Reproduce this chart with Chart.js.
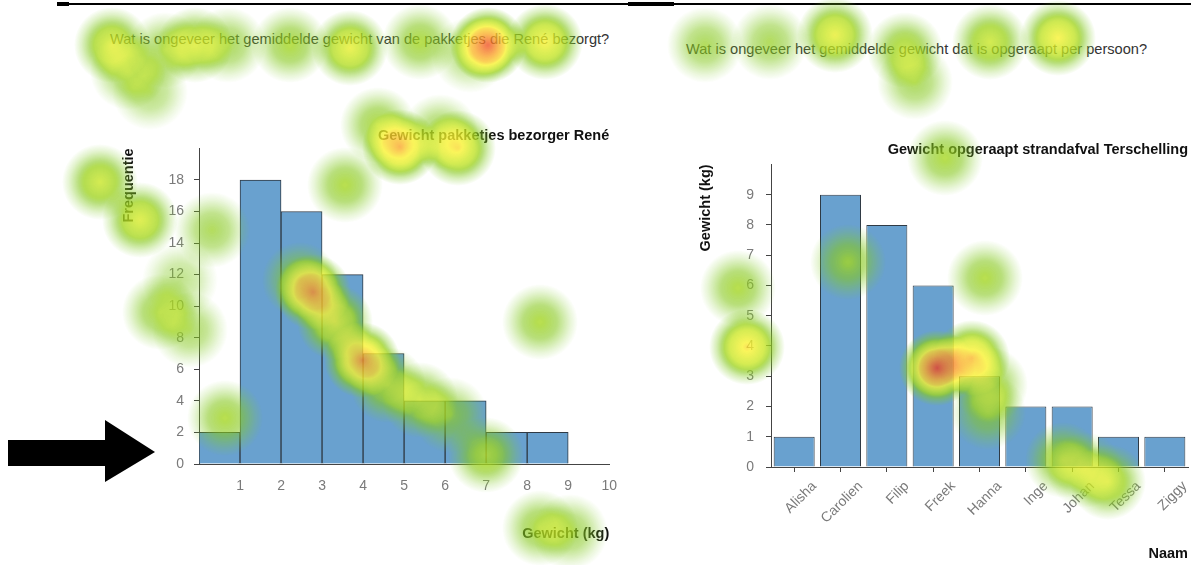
<!DOCTYPE html>
<html>
<head>
<meta charset="utf-8">
<script src="https://cdn.jsdelivr.net/npm/chart.js@4.4.1/dist/chart.umd.min.js"></script>
<style>
  body { margin: 0; width: 1191px; height: 565px; position: relative; background: #fff; overflow: hidden;
         font-family: "Liberation Sans", Arial, sans-serif; }
  canvas { position: absolute; }
  .vraag { position: absolute; font-size: 14.6px; color: #333; white-space: nowrap; }
  .lijn { position: absolute; background: #000; }
</style>
</head>
<body>
<div class="lijn" style="left:57px;top:3px;width:1134px;height:2px"></div>
<div class="lijn" style="left:57px;top:2px;width:12px;height:4px"></div>
<div class="lijn" style="left:628px;top:2px;width:46px;height:4px"></div>

<div class="vraag" style="left:110px;top:31px">Wat is ongeveer het gemiddelde gewicht van de pakketjes die René bezorgt?</div>
<div class="vraag" style="left:686px;top:41px">Wat is ongeveer het gemiddelde gewicht dat is opgeraapt per persoon?</div>

<svg width="170" height="100" style="position:absolute;left:0;top:410px">
  <polygon points="8,30 105,30 105,10 155,42 105,72 105,56 8,56" fill="#000"/>
</svg>

<canvas id="links" width="511" height="425" style="left:120px;top:120px"></canvas>
<canvas id="rechts" width="494" height="435" style="left:697px;top:130px"></canvas>
<canvas id="heat" width="1191" height="565" style="left:0;top:0;pointer-events:none"></canvas>

<script>
// histogram René
const binStart = [0, 1, 2, 3, 4, 5, 6, 7, 8];
const frequentie = [2, 18, 16, 12, 7, 4, 4, 2, 2];
const kgTicks = [1, 2, 3, 4, 5, 6, 7, 8, 9, 10];
const freqTicks = [0, 2, 4, 6, 8, 10, 12, 14, 16, 18];

// strandafval Terschelling
const namen = ['Alisha', 'Carolien', 'Filip', 'Freek', 'Hanna', 'Inge', 'Johan', 'Tessa', 'Ziggy'];
const gewicht = [1, 9, 8, 6, 3, 2, 2, 1, 1];
const gewichtTicks = [0, 1, 2, 3, 4, 5, 6, 7, 8, 9];

// eye tracking fixaties (pagina pixels) en hun gewicht
const gazeX = [112, 128, 150, 165, 195, 228, 290, 350, 420, 470, 488, 545,
               378, 400, 440, 458, 345,
               100, 140, 212, 180, 160, 190, 225,
               300, 313, 335, 362, 388, 420, 450, 486, 540,
               540, 570,
               705, 770, 835, 905, 915, 990, 1058,
               945, 848, 738, 747, 985, 937, 972, 990, 988, 1063, 1085, 1108];
const gazeY = [45, 72, 92, 50, 45, 45, 45, 48, 42, 55, 45, 42,
               125, 147, 132, 148, 185,
               182, 220, 230, 280, 312, 330, 418,
               280, 292, 322, 360, 385, 400, 415, 455, 322,
               528, 532,
               45, 42, 35, 50, 82, 42, 38,
               158, 262, 288, 347, 278, 368, 358, 385, 412, 460, 470, 482];
const gazeW = [0.5, 0.3, 0.25, 0.3, 0.45, 0.3, 0.35, 0.55, 0.35, 0.25, 0.9, 0.6,
               0.35, 0.75, 0.3, 0.6, 0.35,
               0.45, 0.5, 0.3, 0.22, 0.35, 0.28, 0.35,
               0.35, 0.75, 0.55, 0.8, 0.4, 0.4, 0.3, 0.4, 0.35,
               0.35, 0.3,
               0.3, 0.3, 0.55, 0.4, 0.3, 0.45, 0.6,
               0.35, 0.35, 0.35, 0.65, 0.35, 0.95, 0.7, 0.35, 0.3, 0.4, 0.3, 0.45];

const font = '"Liberation Sans", Arial, sans-serif';
const barBlue = '#69a1cf';
const barEdge = '#2f3a45';
const tickGrey = '#7a7a7a';
const axisColor = '#444';
const titleFont = { size: 14.5, weight: 'bold' };

Chart.defaults.font.family = font;

new Chart(document.getElementById('links'), {
  type: 'bar',
  data: {
    datasets: [{
      data: binStart.map((s, i) => ({ x: s + 0.5, y: frequentie[i] })),
      backgroundColor: barBlue,
      borderColor: barEdge,
      borderWidth: 1,
      barPercentage: 1,
      categoryPercentage: 1
    }]
  },
  options: {
    responsive: false,
    animation: false,
    layout: { padding: { left: 0, right: 0, top: 0, bottom: 0 } },
    plugins: {
      legend: { display: false },
      tooltip: { enabled: false },
      title: {
        display: true, text: 'Gewicht pakketjes bezorger René', align: 'end', color: '#111',
        fullSize: false, font: titleFont, padding: { top: 7, bottom: 4 }
      }
    },
    scales: {
      x: {
        type: 'linear', min: 0, max: 10, offset: false,
        afterBuildTicks: s => { s.ticks = kgTicks.map(v => ({ value: v })); },
        afterFit: s => { s.height = 81; },
        ticks: { color: tickGrey, font: { size: 14 }, padding: 14, maxRotation: 0, autoSkip: false },
        grid: { display: false, drawTicks: false },
        border: { color: axisColor },
        title: {
          display: true, text: 'Gewicht (kg)', align: 'end', color: '#111',
          font: titleFont, padding: { top: 0, bottom: 2 }
        }
      },
      y: {
        min: 0, max: 20,
        afterBuildTicks: s => { s.ticks = freqTicks.map(v => ({ value: v })); },
        afterFit: s => { s.width = 79; },
        ticks: { color: tickGrey, font: { size: 14 }, padding: 10 },
        grid: { drawOnChartArea: false, tickLength: 5, color: axisColor },
        border: { color: axisColor },
        title: {
          display: true, text: 'Frequentie', align: 'end', color: '#111',
          font: titleFont, padding: { top: 0, bottom: 0 }
        }
      }
    }
  }
});

new Chart(document.getElementById('rechts'), {
  type: 'bar',
  data: {
    labels: namen,
    datasets: [{
      data: gewicht,
      backgroundColor: barBlue,
      borderColor: barEdge,
      borderWidth: 1,
      barPercentage: 0.885,
      categoryPercentage: 1
    }]
  },
  options: {
    responsive: false,
    animation: false,
    layout: { padding: { left: 0, right: 3, top: 0, bottom: 0 } },
    plugins: {
      legend: { display: false },
      tooltip: { enabled: false },
      title: {
        display: true, text: 'Gewicht opgeraapt strandafval Terschelling', align: 'end', color: '#111',
        font: titleFont, padding: { top: 11, bottom: 6 }
      }
    },
    scales: {
      x: {
        afterFit: s => { s.height = 98; },
        ticks: { color: tickGrey, font: { size: 14 }, padding: 6, minRotation: 45, maxRotation: 45, autoSkip: false, labelOffset: 20 },
        grid: { drawOnChartArea: false, offset: false, tickLength: 5, color: axisColor },
        border: { color: axisColor },
        title: {
          display: true, text: 'Naam', align: 'end', color: '#111',
          font: titleFont, padding: { top: 0, bottom: 2 }
        }
      },
      y: {
        min: 0, max: 10,
        afterBuildTicks: s => { s.ticks = gewichtTicks.map(v => ({ value: v })); },
        afterFit: s => { s.width = 74; },
        ticks: { color: tickGrey, font: { size: 14 }, padding: 12 },
        grid: { drawOnChartArea: false, tickLength: 5, color: axisColor },
        border: { color: axisColor },
        title: {
          display: true, text: 'Gewicht (kg)', align: 'end', color: '#111',
          font: titleFont, padding: { top: 0, bottom: 0 }
        }
      }
    }
  }
});

// heatmap van de fixaties, over de hele pagina
const heatRadius = 38;
const heatPlugin = {
  id: 'heat',
  afterDatasetsDraw(chart) {
    const pts = chart.getDatasetMeta(0).data;
    const w = chart.width, h = chart.height;
    const off = document.createElement('canvas');
    off.width = w; off.height = h;
    const o = off.getContext('2d');
    pts.forEach((p, i) => {
      const a = gazeW[i];
      const g = o.createRadialGradient(p.x, p.y, 0, p.x, p.y, heatRadius);
      g.addColorStop(0, 'rgba(0,0,0,' + a + ')');
      g.addColorStop(0.45, 'rgba(0,0,0,' + a * 0.7 + ')');
      g.addColorStop(0.8, 'rgba(0,0,0,' + a * 0.22 + ')');
      g.addColorStop(1, 'rgba(0,0,0,0)');
      o.fillStyle = g;
      o.beginPath();
      o.arc(p.x, p.y, heatRadius, 0, Math.PI * 2);
      o.fill();
    });

    const pal = document.createElement('canvas');
    pal.width = 256; pal.height = 1;
    const pc = pal.getContext('2d');
    const lg = pc.createLinearGradient(0, 0, 256, 0);
    lg.addColorStop(0, 'rgb(130,205,45)');
    lg.addColorStop(0.25, 'rgb(135,200,30)');
    lg.addColorStop(0.45, 'rgb(200,230,35)');
    lg.addColorStop(0.6, 'rgb(248,242,45)');
    lg.addColorStop(0.75, 'rgb(250,170,40)');
    lg.addColorStop(0.9, 'rgb(240,85,35)');
    lg.addColorStop(1, 'rgb(230,30,30)');
    pc.fillStyle = lg;
    pc.fillRect(0, 0, 256, 1);
    const pd = pc.getImageData(0, 0, 256, 1).data;

    const img = o.getImageData(0, 0, w, h);
    const d = img.data;
    for (let k = 0; k < d.length; k += 4) {
      const v = d[k + 3];
      if (!v) continue;
      d[k] = pd[v * 4];
      d[k + 1] = pd[v * 4 + 1];
      d[k + 2] = pd[v * 4 + 2];
      d[k + 3] = Math.min(200, v * 2.4);
    }
    o.putImageData(img, 0, 0);
    chart.ctx.drawImage(off, 0, 0);
  }
};

new Chart(document.getElementById('heat'), {
  type: 'scatter',
  data: { datasets: [{ data: gazeX.map((x, i) => ({ x: x, y: gazeY[i] })), pointRadius: 0 }] },
  options: {
    responsive: false,
    animation: false,
    layout: { padding: 0 },
    plugins: { legend: { display: false }, tooltip: { enabled: false } },
    scales: {
      x: { type: 'linear', min: 0, max: 1191, display: false },
      y: { type: 'linear', min: 0, max: 565, reverse: true, display: false }
    }
  },
  plugins: [heatPlugin]
});
</script>
</body>
</html>
